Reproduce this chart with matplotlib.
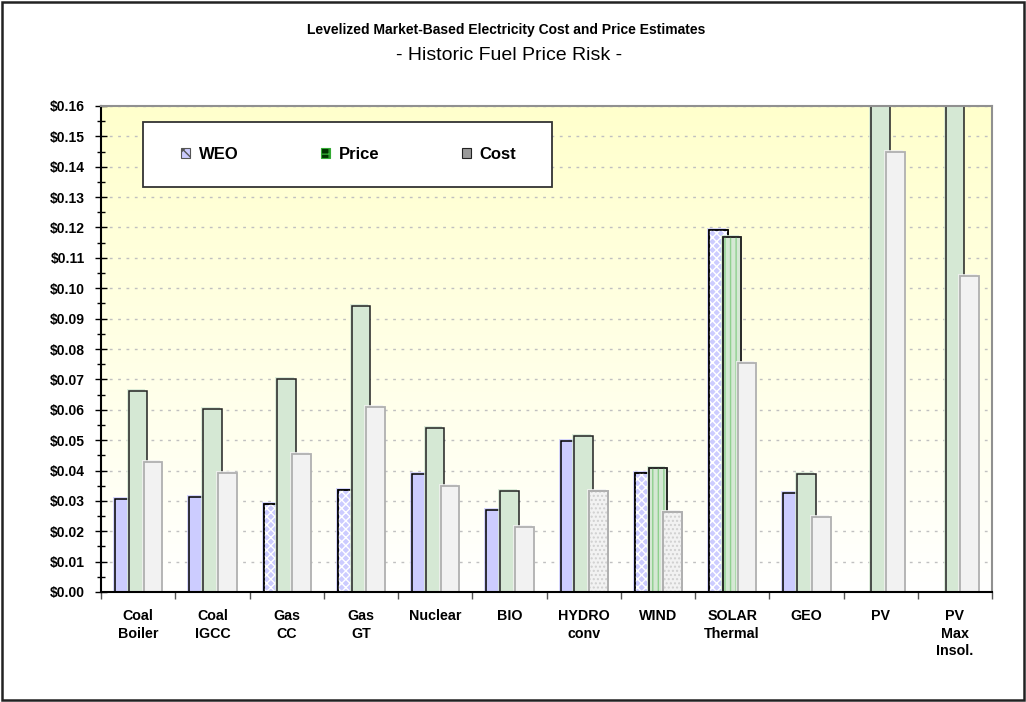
import numpy as np
import matplotlib
matplotlib.use('Agg')
import matplotlib.pyplot as plt
from matplotlib.patches import Patch, Rectangle
from matplotlib.ticker import MultipleLocator, StrMethodFormatter, FixedLocator

plt.rcParams['font.family'] = ['Liberation Sans', 'DejaVu Sans']

# data ($/kWh)
categories = ['Coal\nBoiler', 'Coal\nIGCC', 'Gas\nCC', 'Gas\nGT', 'Nuclear', 'BIO',
              'HYDRO\nconv', 'WIND', 'SOLAR\nThermal', 'GEO', 'PV', 'PV\nMax\nInsol.']
weo   = [0.0306, 0.0313, 0.0289, 0.0337, 0.0387, 0.0269, 0.0497, 0.0393, 0.1192, 0.0327, np.nan, np.nan]
price = [0.0663, 0.0601, 0.0700, 0.0941, 0.0540, 0.0331, 0.0515, 0.0407, 0.1168, 0.0388, 0.1750, 0.1600]
cost  = [0.0429, 0.0393, 0.0453, 0.0608, 0.0350, 0.0214, 0.0331, 0.0263, 0.0755, 0.0246, 0.1448, 0.1041]
series_names = ['WEO', 'Price', 'Cost']

# which bars carry a fill pattern in the original
weo_hatch   = [None, None, 'xxxx', 'xxxx', None, None, None, 'xxxx', 'xxxx', None, None, None]
price_hatch = [None] * 7 + ['|||', '|||'] + [None] * 3
cost_hatch  = [None] * 6 + ['....', '....'] + [None] * 4

fig = plt.figure(figsize=(10.26, 7.02), dpi=100)
ax = fig.add_axes([101 / 1026, 110 / 702, 891 / 1026, 486 / 702])

x = np.arange(len(categories))
ax.set_xlim(-0.5, len(categories) - 0.5)
ax.set_ylim(0, 0.16)

# yellow -> white background gradient
grad = np.linspace(0, 1, 256).reshape(-1, 1)
top = np.array([1.0, 1.0, 0.80])
bot = np.array([1.0, 1.0, 1.0])
img = bot + (top - bot) * grad[..., None]
ax.imshow(img, extent=(-0.5, len(categories) - 0.5, 0, 0.16), origin='lower',
          aspect='auto', zorder=0)

ax.yaxis.set_major_locator(MultipleLocator(0.01))
ax.yaxis.set_minor_locator(MultipleLocator(0.005))
ax.yaxis.set_major_formatter(StrMethodFormatter('${x:.2f}'))
ax.grid(axis='y', which='major', color='#c0c0c0', linestyle=(0, (2, 4)), linewidth=1, zorder=1)
ax.set_axisbelow(True)

# bars: width and offsets in category units
bw = 0.25
px = 1.0 / 74.25          # one pixel in x data units
py = 0.16 / 486           # one pixel in y data units
specs = [
    (weo,   -0.185, '#ccccff', '#000000', 1.1, weo_hatch,   'white'),
    (price,  0.0,   '#d5e8d4', '#222222', 1.1, price_hatch, '#8fd08f'),
    (cost,   0.20,  '#f2f2f2', '#b0b0b0', 1.3, cost_hatch,  '#d0d0d0'),
]
z = 2
for vals, off, fc, ec, lw, hatches, hc in specs:
    vals = np.asarray(vals)
    ok = ~np.isnan(vals)
    xs = x[ok] + off
    v = vals[ok]
    # soft shadow offset up-left
    ax.bar(xs - 2 * px, v + 2 * py, width=bw, color=fc, alpha=0.8, linewidth=0, zorder=z)
    ax.bar(xs, v, width=bw, color=fc, edgecolor=ec, linewidth=lw, zorder=z + 0.1)
    for xi, vi, h in zip(xs, v, np.array(hatches, dtype=object)[ok]):
        if h:
            ax.bar(xi, vi, width=bw, color='none', edgecolor=hc, hatch=h, linewidth=0, zorder=z + 0.2)
            ax.bar(xi, vi, width=bw, color='none', edgecolor=ec, linewidth=lw, zorder=z + 0.3)
    z += 1

# axes styling
for s in ['left', 'bottom']:
    ax.spines[s].set_color('black')
    ax.spines[s].set_linewidth(1.5)
for s in ['top', 'right']:
    ax.spines[s].set_color('#909090')
    ax.spines[s].set_linewidth(1.5)
for s in ax.spines.values():
    s.set_zorder(10)

ax.set_xticks(x)
ax.set_xticklabels(categories, fontsize=10.3, fontweight='bold', linespacing=1.35, va='top')
ax.xaxis.set_minor_locator(FixedLocator(np.arange(-0.5, len(categories), 1.0)))
ax.tick_params(axis='x', which='major', length=0, pad=12)
ax.tick_params(axis='x', which='minor', length=5, width=1, color='#555555', direction='out')
ax.tick_params(axis='y', which='major', length=9, width=1, direction='inout', labelsize=10, pad=7)
ax.tick_params(axis='y', which='minor', length=6, width=1, direction='inout')
for t in ax.get_yticklabels():
    t.set_fontweight('bold')

# legend box
ax.add_patch(Rectangle((42 / 891, 405 / 486), 409 / 891, 65 / 486, transform=ax.transAxes,
                       facecolor='white', edgecolor='#333333', linewidth=1.3, zorder=8))
handles = [
    Patch(facecolor='#ccccff', edgecolor='#555555', hatch='xx', linewidth=0.8),
    Patch(facecolor='#003300', edgecolor='#33aa33', hatch='++', linewidth=0.8),
    Patch(facecolor='#9a9a9a', edgecolor='#222222', hatch='', linewidth=0.8),
]
leg = ax.legend(handles, series_names, ncol=3, mode='expand', loc='center',
                bbox_to_anchor=(80 / 891, 405 / 486, 335 / 891, 65 / 486),
                frameon=False, borderaxespad=0, borderpad=0,
                handlelength=0.55, handleheight=0.55, handletextpad=0.5,
                prop={'weight': 'bold', 'size': 12})
leg.set_zorder(9)

# titles
fig.text(0.493, 1 - 30 / 702, 'Levelized Market-Based Electricity Cost and Price Estimates',
         ha='center', va='center', fontsize=10, fontweight='bold')
fig.text(0.496, 1 - 55 / 702, '- Historic Fuel Price Risk -', ha='center', va='center', fontsize=14)

# outer frame
fig.patches.append(Rectangle((2 / 1026, 2 / 702), 1022 / 1026, 698 / 702, transform=fig.transFigure,
                             fill=False, edgecolor='#222222', linewidth=1.8))

fig.savefig('out.png', dpi=100)
